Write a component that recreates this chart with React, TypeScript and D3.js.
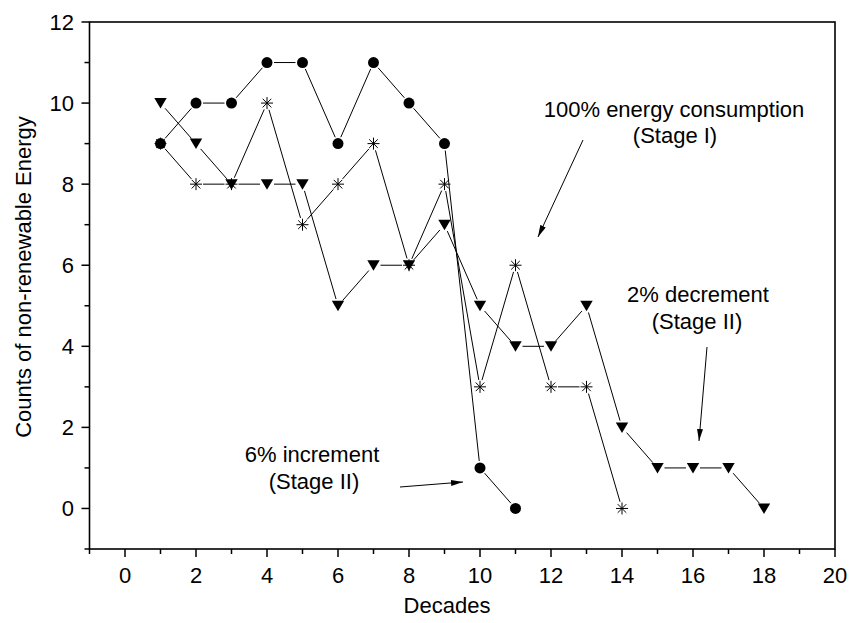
import * as d3 from 'd3';

// decades for each series
const circleX = [1, 2, 3, 4, 5, 6, 7, 8, 9, 10, 11];
const circleY = [9, 10, 10, 11, 11, 9, 11, 10, 9, 1, 0];

const triangleX = [1, 2, 3, 4, 5, 6, 7, 8, 9, 10, 11, 12, 13, 14, 15, 16, 17, 18];
const triangleY = [10, 9, 8, 8, 8, 5, 6, 6, 7, 5, 4, 4, 5, 2, 1, 1, 1, 0];

const starX = [1, 2, 3, 4, 5, 6, 7, 8, 9, 10, 11, 12, 13, 14];
const starY = [9, 8, 8, 10, 7, 8, 9, 6, 8, 3, 6, 3, 3, 0];

const xTicks = [0, 2, 4, 6, 8, 10, 12, 14, 16, 18, 20];
const xMinor = [-1, 1, 3, 5, 7, 9, 11, 13, 15, 17, 19];
const yTicks = [0, 2, 4, 6, 8, 10, 12];
const yMinor = [-1, 1, 3, 5, 7, 9, 11];

const width = 849;
const height = 623;
const font = '"Liberation Sans", Arial, sans-serif';
const fs = 22;

type Pt = [number, number];

function zip(xs: number[], ys: number[]) {
  return xs.map((x, i) => ({ x, y: ys[i] }));
}

// segments trimmed at both ends, like Origin leaves a gap round each symbol
function gappedSegments(pts: Pt[], gap: number) {
  const out: string[] = [];
  for (let i = 0; i < pts.length - 1; i++) {
    const [x1, y1] = pts[i];
    const [x2, y2] = pts[i + 1];
    const len = Math.hypot(x2 - x1, y2 - y1);
    if (len <= gap * 2) continue;
    const ux = (x2 - x1) / len;
    const uy = (y2 - y1) / len;
    out.push(`M${x1 + ux * gap},${y1 + uy * gap}L${x2 - ux * gap},${y2 - uy * gap}`);
  }
  return out.join('');
}

export default function App() {
  const x = d3.scaleLinear().domain([-1, 20]).range([89.5, 835]);
  const y = d3.scaleLinear().domain([-1, 12]).range([549, 22]);

  const circles = zip(circleX, circleY);
  const triangles = zip(triangleX, triangleY);
  const stars = zip(starX, starY);

  const toPx = (d: { x: number; y: number }): Pt => [x(d.x), y(d.y)];

  const tri = 'M-6.2,-5L6.2,-5L0,5.5Z';
  const star = 'M-6,0L6,0M0,-6L0,6M-4.3,-4.3L4.3,4.3M-4.3,4.3L4.3,-4.3';

  return (
    <svg width={width} height={height}
      style={{ position: 'fixed', left: 0, top: 0, display: 'block', background: '#fff' }}
      fontFamily={font}>
      <defs>
        <marker id="arrow" viewBox="0 0 12 6" refX="12" refY="3" markerWidth="12" markerHeight="6"
          markerUnits="userSpaceOnUse" orient="auto">
          <path d="M0,0L12,3L0,6Z" fill="#000" />
        </marker>
      </defs>

      {/* frame */}
      <rect x={x(-1)} y={y(12)} width={x(20) - x(-1)} height={y(-1) - y(12)}
        fill="none" stroke="#000" strokeWidth={1.6} />

      {/* x axis */}
      {xTicks.map((t) => (
        <g key={'xt' + t}>
          <line x1={x(t)} x2={x(t)} y1={y(-1)} y2={y(-1) + 8} stroke="#000" strokeWidth={1.5} />
          <text x={x(t)} y={583} textAnchor="middle" fontSize={fs}>{t}</text>
        </g>
      ))}
      {xMinor.map((t) => (
        <line key={'xm' + t} x1={x(t)} x2={x(t)} y1={y(-1)} y2={y(-1) + 5} stroke="#000" strokeWidth={1.5} />
      ))}

      {/* y axis */}
      {yTicks.map((t) => (
        <g key={'yt' + t}>
          <line x1={x(-1) - 8} x2={x(-1)} y1={y(t)} y2={y(t)} stroke="#000" strokeWidth={1.5} />
          <text x={74} y={y(t)} dy="0.36em" textAnchor="end" fontSize={fs}>{t}</text>
        </g>
      ))}
      {yMinor.map((t) => (
        <line key={'ym' + t} x1={x(-1) - 5} x2={x(-1)} y1={y(t)} y2={y(t)} stroke="#000" strokeWidth={1.5} />
      ))}

      <text x={447} y={613} textAnchor="middle" fontSize={fs}>Decades</text>
      <text transform="translate(31,277) rotate(-90)" textAnchor="middle" fontSize={fs}>
        Counts of non-renewable Energy
      </text>

      {/* lines */}
      <path d={gappedSegments(circles.map(toPx), 7)} fill="none" stroke="#000" strokeWidth={1} />
      <path d={gappedSegments(triangles.map(toPx), 7)} fill="none" stroke="#000" strokeWidth={1} />
      <path d={gappedSegments(stars.map(toPx), 7)} fill="none" stroke="#000" strokeWidth={1} />

      {/* symbols */}
      {stars.map((d, i) => (
        <path key={'s' + i} d={star} transform={`translate(${x(d.x)},${y(d.y)})`}
          fill="none" stroke="#000" strokeWidth={1} />
      ))}
      {triangles.map((d, i) => (
        <path key={'t' + i} d={tri} transform={`translate(${x(d.x)},${y(d.y)})`} fill="#000" />
      ))}
      {circles.map((d, i) => (
        <circle key={'c' + i} cx={x(d.x)} cy={y(d.y)} r={5.5} fill="#000" />
      ))}

      {/* annotations */}
      <text x={674} y={117} textAnchor="middle" fontSize={fs}>100% energy consumption</text>
      <text x={675} y={143} textAnchor="middle" fontSize={fs}>(Stage I)</text>
      <line x1={583} y1={140} x2={538} y2={237} stroke="#000" strokeWidth={1} markerEnd="url(#arrow)" />

      <text x={698} y={302} textAnchor="middle" fontSize={fs}>2% decrement</text>
      <text x={697} y={329} textAnchor="middle" fontSize={fs}>(Stage II)</text>
      <line x1={707} y1={347} x2={699} y2={441} stroke="#000" strokeWidth={1} markerEnd="url(#arrow)" />

      <text x={312} y={462} textAnchor="middle" fontSize={fs}>6% increment</text>
      <text x={314} y={489} textAnchor="middle" fontSize={fs}>(Stage II)</text>
      <line x1={400} y1={487} x2={463} y2={482} stroke="#000" strokeWidth={1} markerEnd="url(#arrow)" />
    </svg>
  );
}
